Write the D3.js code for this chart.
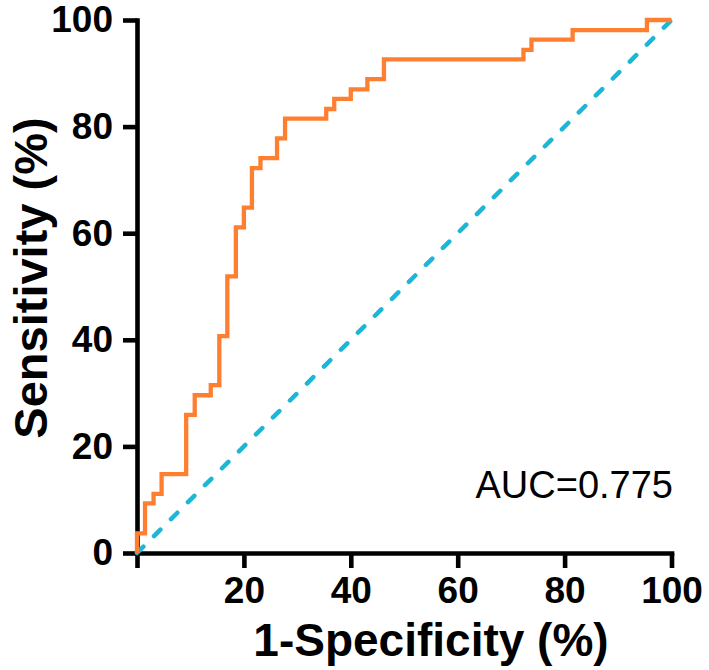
<!DOCTYPE html>
<html>
<head>
<meta charset="utf-8">
<script src="https://cdn.jsdelivr.net/npm/d3@7"></script>
<style>
  html, body { margin: 0; padding: 0; background: #fff; }
  svg { display: block; }
  text { font-family: "Liberation Sans", Arial, sans-serif; }
</style>
</head>
<body>
<svg id="chart" width="709" height="670"></svg>
<script>
// ROC curve corner points (1-Specificity %, Sensitivity %)
const fpr = [0, 0, 1.5, 3.1, 4.6, 9.2, 10.8, 13.8, 15.4, 16.9, 18.5, 20.0, 21.5, 23.1, 26.2, 27.7, 35.4, 36.9, 40.0, 43.1, 46.2, 72.3, 73.8, 81.5, 95.4, 100];
const tpr = [0, 3.7, 9.3, 11.1, 14.8, 25.9, 29.6, 31.5, 40.7, 51.9, 61.1, 64.8, 72.2, 74.1, 77.8, 81.5, 83.3, 85.2, 87.0, 88.9, 92.6, 94.4, 96.3, 98.1, 100, 100];
const refX = [0, 100];
const refY = [0, 100];
const xTicks = [0, 20, 40, 60, 80, 100];
const yTicks = [0, 20, 40, 60, 80, 100];
const xTitle = "1-Specificity (%)";
const yTitle = "Sensitivity (%)";
const aucLabel = "AUC=0.775";

const svg = d3.select("#chart");
const x = d3.scaleLinear().domain([0, 100]).range([137, 671.5]);
const y = d3.scaleLinear().domain([0, 100]).range([553, 20]);

const xAxis = d3.axisBottom(x).tickValues(xTicks)
  .tickFormat(d => d === 0 ? "" : d3.format("d")(d))
  .tickSize(15).tickSizeOuter(0).tickPadding(9);
const yAxis = d3.axisLeft(y).tickValues(yTicks)
  .tickFormat(d3.format("d")).tickSize(14).tickSizeOuter(0).tickPadding(10);

const gx = svg.append("g").attr("transform", `translate(0,${y(0)})`).call(xAxis);
const gy = svg.append("g").attr("transform", `translate(${x(0)},0)`).call(yAxis);
[gx, gy].forEach(g => {
  g.select(".domain").attr("stroke", "#000").attr("stroke-width", 4.6).attr("stroke-linecap", "square");
  g.selectAll(".tick line").attr("stroke", "#000").attr("stroke-width", 4.6);
  g.selectAll(".tick text").attr("fill", "#000")
    .style("font-family", '"Liberation Sans", Arial, sans-serif')
    .style("font-size", "37px").style("font-weight", "bold");
});

// Reference diagonal
svg.append("line")
  .attr("x1", x(refX[0])).attr("y1", y(refY[0]))
  .attr("x2", x(refX[1])).attr("y2", y(refY[1]))
  .attr("stroke", "#1DB6D6").attr("stroke-width", 4.5)
  .attr("stroke-dasharray", "9,15").attr("stroke-linecap", "round");

// ROC step curve
const pts = fpr.map((d, i) => [d, tpr[i]]);
const line = d3.line().x(d => x(d[0])).y(d => y(d[1])).curve(d3.curveStepAfter);
svg.append("path").datum(pts)
  .attr("d", line).attr("fill", "none")
  .attr("stroke", "#FF7F30").attr("stroke-width", 4.3)
  .attr("stroke-linejoin", "miter");

// Titles
svg.append("text").attr("x", 431).attr("y", 656)
  .attr("text-anchor", "middle").style("font-size", "46px").style("font-weight", "bold")
  .text(xTitle);
svg.append("text").attr("transform", "translate(47,278) rotate(-90)")
  .attr("text-anchor", "middle").style("font-size", "47px").style("font-weight", "bold")
  .text(yTitle);

svg.append("text").attr("x", 673).attr("y", 498)
  .attr("text-anchor", "end").style("font-size", "38px")
  .text(aucLabel);
</script>
</body>
</html>
